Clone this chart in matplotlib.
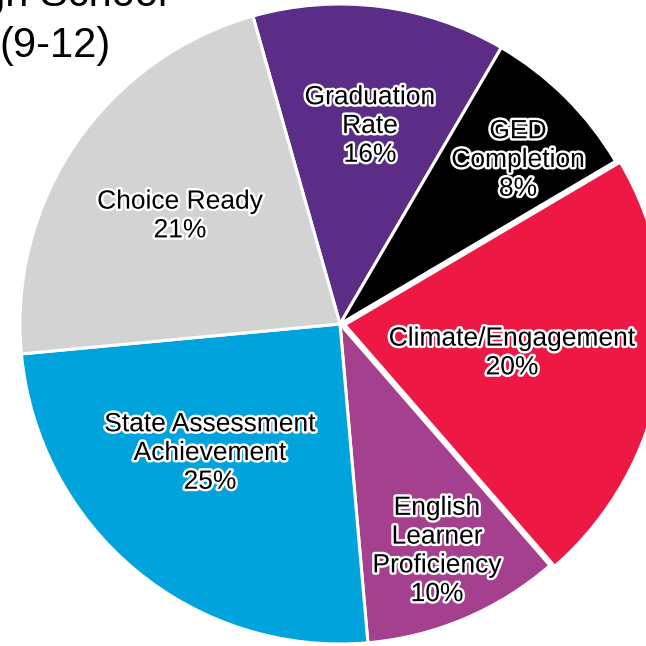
import matplotlib.pyplot as plt
import matplotlib.patheffects as pe

# slice order, clockwise from the top
categories = ["Graduation\nRate", "GED\nCompletion", "Climate/Engagement",
              "English\nLearner\nProficiency", "State Assessment\nAchievement",
              "Choice Ready"]
pct_labels = ["16%", "8%", "20%", "10%", "25%", "21%"]
# slice sizes as drawn in the picture (angles measured off the chart)
sizes = [12.8, 8.1, 22.1, 10.0, 24.9, 22.1]

colors = ["#5B2D86", "#000000", "#EE1844", "#A5408E", "#00A3DC", "#D3D3D3"]
explode = [0, 0, 0.015, 0, 0, 0]

# label centres in pixels (x from left, y from top)
label_px = [(370, 126), (518, 160), (512, 353), (437, 551), (210, 453), (180, 216)]

W = 646
cx, cy, R = 340, 324, 320

fig = plt.figure(figsize=(6.46, 6.46), dpi=100)
ax = fig.add_axes([0, 0, 1, 1])

ax.pie(sizes, colors=colors, explode=explode, startangle=105.8, counterclock=False,
       radius=1, wedgeprops=dict(edgecolor="white", linewidth=2.2))

ax.set_xlim(-cx / R, (W - cx) / R)
ax.set_ylim(-(W - cy) / R, cy / R)
ax.set_aspect("equal")
ax.axis("off")

outline = [pe.withStroke(linewidth=3.5, foreground="white")]
for name, pct, (px, py) in zip(categories, pct_labels, label_px):
    x = (px - cx) / R
    y = (cy - py) / R
    ax.text(x, y, name + "\n" + pct, ha="center", va="center", multialignment="center",
            fontsize=19, family="Liberation Sans", color="black",
            linespacing=1.25, path_effects=outline)

# title, partly outside the picture as in the original
fig.text(55 / W, 1 - 6 / W, "High School", ha="center", va="baseline",
         fontsize=30, family="Liberation Sans")
fig.text(55 / W, 1 - 57 / W, "(9-12)", ha="center", va="baseline",
         fontsize=30, family="Liberation Sans")

fig.savefig("out.png", dpi=100)
